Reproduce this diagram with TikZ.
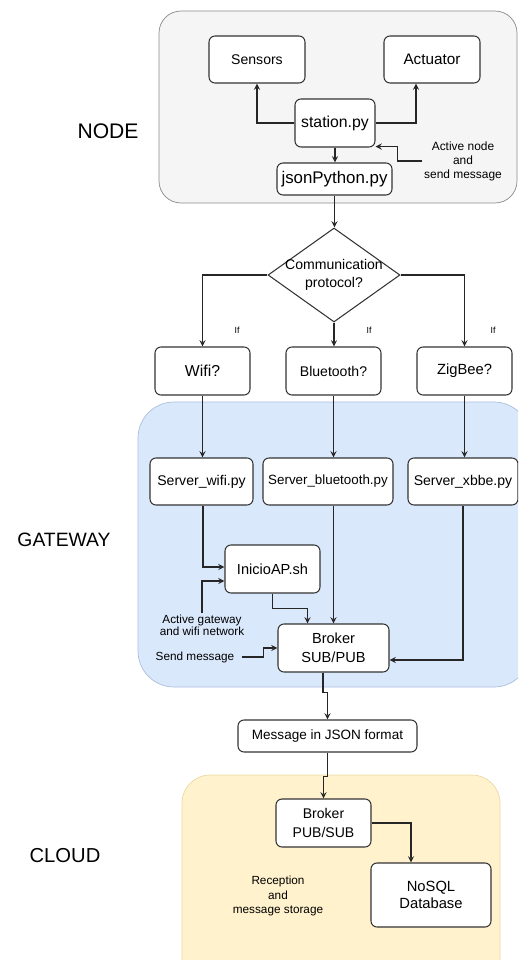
\documentclass[tikz,border=0pt]{standalone}
\usepackage{fontspec}
\setmainfont{Liberation Sans}
\usepackage{tikz}
\usetikzlibrary{shapes,calc}

\definecolor{nodefill}{HTML}{F5F5F5}
\definecolor{nodeline}{HTML}{8A8A8A}
\definecolor{gwfill}{HTML}{DAE8FC}
\definecolor{gwline}{HTML}{A9BEDD}
\definecolor{cloudfill}{HTML}{FFF2CC}
\definecolor{cloudline}{HTML}{EAD9A6}

\begin{document}
\begin{tikzpicture}[x=0.02cm,y=-0.02cm]
    \newcommand{\pix}[1]{#1*0.02cm}
    \newcommand{\fs}[2]{\fontsize{#1}{#2}\selectfont}

    \tikzstyle{box} = [
      rectangle,
      draw=black!80,
      fill=white,
      rounded corners=\pix{6},
      align=center,
      inner sep=0pt,
      line width=0.6pt,
      font=\fs{8}{9.6},
    ]
    \tikzstyle{note} = [
      align=center,
      inner sep=1pt,
      font=\fs{6.7}{8},
    ]
    \tikzstyle{arrow} = [
      line width=0.6pt,
      ->,
      >=stealth,
      draw=black!85,
    ]

    \useasboundingbox (0,0) rectangle (518,960);
    \clip (0,0) rectangle (518,960);

    % layers
    \draw[fill=nodefill,draw=nodeline,rounded corners=\pix{22}] (159,11) rectangle (517,203);
    \draw[fill=gwfill,draw=gwline,rounded corners=\pix{36}] (138,402) rectangle (530,687);
    \draw[fill=cloudfill,draw=cloudline,rounded corners=\pix{28}] (182,775) rectangle (500,990);

    \node[font=\fs{12}{14}] (lnode) at (108,131) {NODE};
    \node[font=\fs{11}{13}] (lgateway) at (64,540) {GATEWAY};
    \node[font=\fs{11.5}{13}] (lcloud) at (65,856) {CLOUD};

    % node
    \node[box,minimum width=\pix{96},minimum height=\pix{47}] (sensors) at (257,59.5) {Sensors};
    \node[box,minimum width=\pix{96},minimum height=\pix{47},font=\fs{8.7}{10}] (actuator) at (432,59.5) {Actuator};
    \node[box,minimum width=\pix{80},minimum height=\pix{48},font=\fs{9}{10}] (station) at (335,123) {station.py};
    \node[box,minimum width=\pix{115},minimum height=\pix{32},font=\fs{9.6}{11}] (jsonpy) at (334.5,179) {jsonPython.py};
    \node[note,font=\fs{6.8}{8}] (actnode) at (463,161) {Active node\\and\\send message};

    \draw[arrow] (station.west) -| (sensors.south);
    \draw[arrow] (station.east) -| ([xshift=-\pix{16}]actuator.south);
    \draw[arrow] (station.south) -- (station.south |- jsonpy.north);
    \draw[arrow] (actnode.west) -- ++(-25,0) |- ([yshift=\pix{1}]station.south east);

    % protocol choice
    \node[diamond,draw=black!80,fill=white,line width=0.6pt,inner sep=0pt,
          minimum width=\pix{132},minimum height=\pix{94},
          label={[align=center,font=\fs{8}{10}]center:Communication\\protocol?}] (proto) at (334,275) {};
    \node[box,minimum width=\pix{95},minimum height=\pix{48},font=\fs{9}{10}] (wifi) at (202.5,371) {Wifi?};
    \node[box,minimum width=\pix{95},minimum height=\pix{48}] (bluetooth) at (333.5,371) {Bluetooth?};
    \node[box,minimum width=\pix{95},minimum height=\pix{48},font=\fs{8.4}{10}] (zigbee) at (464.5,371) {ZigBee?};

    \node[font=\fs{5}{6}] (ifwifi) at (237,330) {If};
    \node[font=\fs{5}{6}] (ifbt) at (369,330) {If};
    \node[font=\fs{5}{6}] (ifzb) at (493,330) {If};

    \draw[arrow] (jsonpy.south) -- (jsonpy.south |- proto.north);
    \draw[arrow] (proto.west) -| (wifi.north);
    \draw[arrow] (proto.south) -- (proto.south |- bluetooth.north);
    \draw[arrow] (proto.east) -| (zigbee.north);

    % gateway
    \node[box,minimum width=\pix{103},minimum height=\pix{47}] (srvwifi) at (201.5,481.5) {Server\_wifi.py};
    \node[box,minimum width=\pix{130},minimum height=\pix{47},font=\fs{7.6}{9}] (srvbt) at (328,481.5) {Server\_bluetooth.py};
    \node[box,minimum width=\pix{110},minimum height=\pix{47}] (srvxb) at (463,481.5) {Server\_xbbe.py};
    \node[box,minimum width=\pix{95},minimum height=\pix{48},font=\fs{8.3}{10}] (inicio) at (272.5,569) {InicioAP.sh};
    \node[box,minimum width=\pix{111},minimum height=\pix{48},font=\fs{8.3}{10.5}] (brokergw) at (333.5,648) {Broker\\SUB/PUB};
    \node[note,font=\fs{6.7}{6.9}] (actgw) at (202,625) {Active gateway\\and wifi network};
    \node[note,inner sep=4pt] (sendmsg) at (195,657) {Send message};

    \draw[arrow] (wifi.south) -- (wifi.south |- srvwifi.north);
    \draw[arrow] (bluetooth.south) -- (bluetooth.south |- srvbt.north);
    \draw[arrow] (zigbee.south) -- (zigbee.south |- srvxb.north);
    \draw[arrow] ([xshift=\pix{1.5}]srvwifi.south) |- ([yshift=\pix{2}]inicio.west);
    \draw[arrow] (actgw.north) |- ([yshift=-\pix{12}]inicio.west);
    \draw[arrow] (inicio.south) -- ++(0,15) -| ([xshift=-\pix{26}]brokergw.north);
    \draw[arrow] (srvbt.south -| brokergw.north) -- (brokergw.north);
    \draw[arrow] (srvxb.south) |- ([yshift=-\pix{12}]brokergw.east);
    \draw[arrow] (sendmsg.east) -- ++(22,0) |- (brokergw.west);

    % cloud
    \node[box,minimum width=\pix{179},minimum height=\pix{32},font=\fs{7.7}{9}] (msgjson) at (327.5,736) {Message in JSON format};
    \node[box,minimum width=\pix{95},minimum height=\pix{48},font=\fs{8}{10.5}] (brokercl) at (323.5,823) {Broker\\PUB/SUB};
    \node[box,minimum width=\pix{120},minimum height=\pix{64},font=\fs{8.4}{9.5}] (nosql) at (431,895) {NoSQL\\Database};
    \node[note,font=\fs{6.7}{8.3}] (storage) at (278,896) {Reception\\and\\message storage};

    \draw[arrow] ([xshift=-\pix{10.5}]brokergw.south) -- ++(0,20) -| (msgjson.north);
    \draw[arrow] (msgjson.south) -- ++(0,24) -| (brokercl.north);
    \draw[arrow] (brokercl.east) -| ([xshift=-\pix{20}]nosql.north);
\end{tikzpicture}
\end{document}
